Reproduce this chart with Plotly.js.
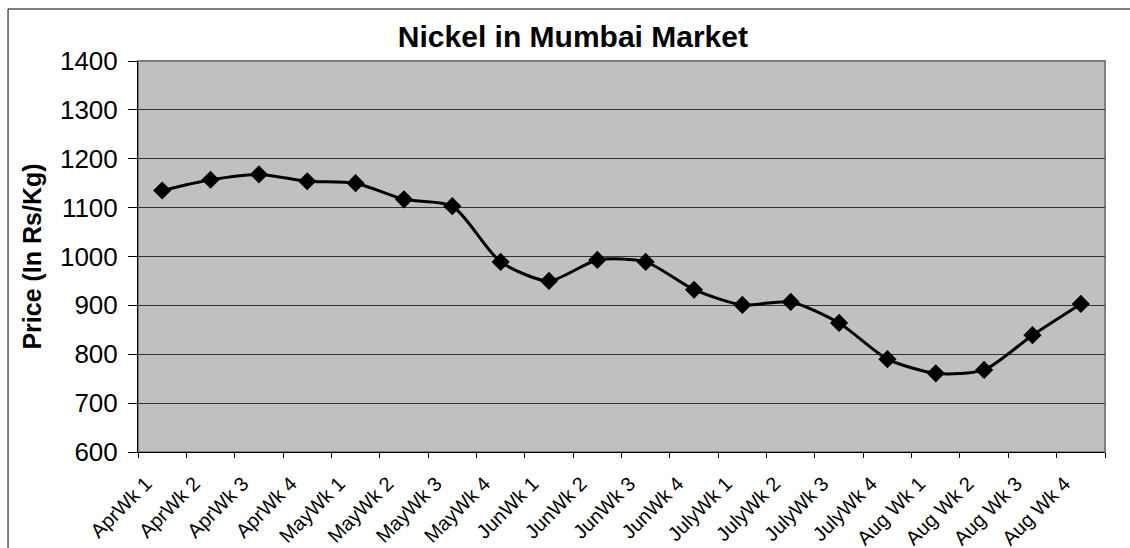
<!DOCTYPE html>
<html>
<head>
<meta charset="utf-8">
<script src="https://cdn.plot.ly/plotly-3.0.1.min.js"></script>
<style>
html,body{margin:0;padding:0;background:#fff;}
#chart{width:1130px;height:548px;}
</style>
</head>
<body>
<div id="chart"></div>
<script>
const categories = ["AprWk 1","AprWk 2","AprWk 3","AprWk 4","MayWk 1","MayWk 2","MayWk 3","MayWk 4",
  "JunWk 1","JunWk 2","JunWk 3","JunWk 4","JulyWk 1","JulyWk 2","JulyWk 3","JulyWk 4",
  "Aug Wk 1","Aug Wk 2","Aug Wk 3","Aug Wk 4"];
const prices = [1135,1157,1168,1154,1150,1117,1103,989,950,993,989,932,901,907,864,790,761,768,839,903];
const yTicks = [600,700,800,900,1000,1100,1200,1300,1400];

const xPos = categories.map((c,i)=>i+0.5);
const tickVals = categories.map((c,i)=>i).concat([categories.length]);
const tickText = categories.concat([""]);

const font = "Liberation Sans, Arial, sans-serif";

const trace = {
  x: xPos, y: prices, type: "scatter", mode: "lines+markers",
  line: {color: "#000", width: 3, shape: "spline", smoothing: 0.7},
  marker: {symbol: "diamond", size: 14, color: "#000"},
  hoverinfo: "skip", cliponaxis: false
};

const layout = {
  width: 1130, height: 548,
  margin: {l: 138, r: 25, t: 61, b: 96},
  paper_bgcolor: "#fff", plot_bgcolor: "#C0C0C0",
  showlegend: false,
  title: {text: "<b>Nickel in Mumbai Market</b>", font: {family: font, size: 30, color: "#000"},
          x: 0.507, xanchor: "center", y: 0.934, yanchor: "middle"},
  xaxis: {
    range: [0, categories.length], tickmode: "array", tickvals: tickVals, ticktext: tickText,
    tickangle: -45, ticks: "outside", ticklen: 5, tickcolor: "#000", tickwidth: 1,
    showgrid: false, zeroline: false, showline: true, linecolor: "#000", linewidth: 1,
    tickfont: {family: font, size: 20, color: "#000"}, ticklabelshift: 8, ticklabelstandoff: 6,
    fixedrange: true
  },
  yaxis: {
    range: [600, 1400], tickmode: "array", tickvals: yTicks, ticks: "outside", ticklen: 9,
    tickcolor: "#000", tickwidth: 1, showgrid: true, gridcolor: "#333", gridwidth: 1,
    zeroline: false, showline: true, linecolor: "#000", linewidth: 1,
    tickfont: {family: font, size: 26, color: "#000"}, ticklabelstandoff: 5,
    title: {text: "<b>Price (In Rs/Kg)</b>", font: {family: font, size: 25, color: "#000"}, standoff: 11},
    fixedrange: true
  },
  shapes: [
    {type: "rect", xref: "x domain", yref: "y domain", x0: 0, x1: 1, y0: 0, y1: 1,
     line: {color: "#808080", width: 2}, layer: "below"},
    {type: "rect", xref: "paper", yref: "paper", x0: -0.1344, x1: 1.2, y0: -0.5, y1: 1.133,
     line: {color: "#000", width: 1}, layer: "below"}
  ]
};

Plotly.newPlot("chart", [trace], layout, {displayModeBar: false, staticPlot: true});
</script>
</body>
</html>
